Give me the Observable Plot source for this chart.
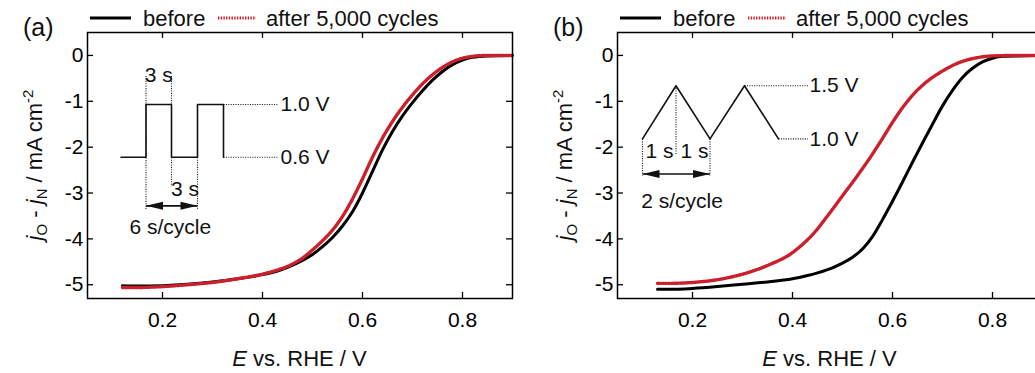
<!DOCTYPE html>
<html><head><meta charset="utf-8">
<script src="https://cdn.jsdelivr.net/npm/d3@7"></script>
<script src="https://cdn.jsdelivr.net/npm/@observablehq/plot@0.6"></script>
<style>
html,body{margin:0;padding:0;background:#fff;}
#wrap{position:relative;width:1035px;height:373px;overflow:hidden;}
.panel{position:absolute;top:0;width:530px;height:373px;}
.panel svg{position:absolute;left:0;top:0;}
</style></head><body>
<div id="wrap"><div class="panel" id="pa" style="left:0"></div><div class="panel" id="pb" style="left:530px"></div></div>
<script>
// ---------- data ----------
const xTicks = [0.2, 0.4, 0.6, 0.8];
const yTicks = [0, -1, -2, -3, -4, -5];
const seriesNames = ["before", "after 5,000 cycles"];
const panelLabels = ["(a)", "(b)"];

// Panel (a): potential step cycling
const eA = [0.12,0.15,0.20,0.25,0.30,0.35,0.40,0.43,0.45,0.48,0.50,0.52,0.54,0.56,0.58,0.60,0.62,0.64,0.66,0.68,0.70,0.72,0.74,0.76,0.78,0.80,0.82,0.85,0.90];
const beforeA = [-5.02,-5.03,-5.02,-4.99,-4.94,-4.87,-4.78,-4.70,-4.62,-4.47,-4.34,-4.17,-3.97,-3.72,-3.41,-3.00,-2.53,-2.06,-1.66,-1.32,-1.03,-0.77,-0.54,-0.35,-0.20,-0.10,-0.04,-0.01,0.0];
const afterA  = [-5.06,-5.06,-5.04,-5.00,-4.95,-4.87,-4.77,-4.68,-4.60,-4.42,-4.24,-4.04,-3.81,-3.51,-3.13,-2.69,-2.22,-1.80,-1.44,-1.13,-0.86,-0.62,-0.42,-0.26,-0.14,-0.06,-0.02,0.0,0.0];

// Panel (b): potential sweep cycling
const eBbefore = [0.13,0.15,0.20,0.25,0.30,0.35,0.40,0.43,0.45,0.48,0.50,0.52,0.54,0.56,0.58,0.60,0.62,0.64,0.66,0.68,0.70,0.72,0.74,0.76,0.78,0.80,0.82,0.85,0.90];
const beforeB  = [-5.10,-5.10,-5.08,-5.04,-4.99,-4.94,-4.87,-4.80,-4.74,-4.63,-4.53,-4.40,-4.22,-3.95,-3.58,-3.18,-2.76,-2.33,-1.91,-1.50,-1.10,-0.76,-0.48,-0.28,-0.14,-0.06,-0.02,-0.01,0.0];
const eBafter = [0.13,0.15,0.20,0.25,0.30,0.35,0.40,0.42,0.44,0.47,0.50,0.53,0.56,0.58,0.60,0.62,0.64,0.66,0.68,0.70,0.72,0.74,0.76,0.78,0.80,0.85,0.90];
const afterB  = [-4.97,-4.97,-4.95,-4.89,-4.77,-4.58,-4.30,-4.12,-3.91,-3.50,-3.06,-2.62,-2.15,-1.81,-1.46,-1.14,-0.87,-0.65,-0.48,-0.34,-0.22,-0.13,-0.07,-0.03,-0.01,0.0,0.0];

// Inset schematics (in chart units)
const waveA_t = [0.117,0.167,0.167,0.218,0.218,0.270,0.270,0.322,0.322];
const waveA_v = [-2.22,-2.22,-1.07,-1.07,-2.22,-2.22,-1.07,-1.07,-2.22];
const guidesA = [[0.167,-0.45,0.167,-3.35],[0.218,-0.45,0.218,-1.07],[0.218,-2.22,0.218,-2.85],[0.270,-2.22,0.270,-3.35],[0.322,-1.07,0.431,-1.07],[0.322,-2.22,0.431,-2.22]];
const arrowA = [0.167, 0.270, -3.28];
const labelsMidA = [["3 s",0.1925,-0.44],["3 s",0.245,-2.92],["6 s/cycle",0.2155,-3.75]];
const labelsStartA = [["1.0 V",0.436,-1.07],["0.6 V",0.436,-2.22]];

const waveB_t = [0.100,0.167,0.235,0.304,0.372];
const waveB_v = [-1.82,-0.66,-1.82,-0.66,-1.82];
const guidesB = [[0.100,-1.82,0.100,-2.62],[0.167,-0.66,0.167,-2.15],[0.235,-1.82,0.235,-2.62],[0.304,-0.66,0.431,-0.66],[0.372,-1.82,0.431,-1.82]];
const arrowB = [0.100, 0.235, -2.585];
const labelsMidB = [["1 s",0.134,-2.08],["1 s",0.204,-2.08],["2 s/cycle",0.179,-3.17]];
const labelsStartB = [["1.5 V",0.434,-0.64],["1.0 V",0.434,-1.82]];

// ---------- drawing ----------
const FONT = "'Liberation Sans', Arial, Helvetica, sans-serif";
const W = 530, H = 373, ML = 87, MR = 18, MT = 32, MB = 75;
const FW = W - ML - MR, FH = H - MT - MB;
const RED = "#cc1f2c";
const DOTS = "1.4 1.3";
const spike = {draw(ctx, l, r) { ctx.moveTo(-r, 0); ctx.lineTo(0, -l); ctx.lineTo(r, 0); ctx.closePath(); }};

function panel(el, label, eb, yb, ea, ya, wt, wv, guides, arrow, mids, starts) {
  const before = eb.map((e, i) => ({e, j: yb[i]}));
  const after = ea.map((e, i) => ({e, j: ya[i]}));
  const wave = wt.map((t, i) => ({t, v: wv[i]}));
  const g = guides.map(d => ({x1: d[0], y1: d[1], x2: d[2], y2: d[3]}));
  const shaft = [{x1: arrow[0], x2: arrow[1], y: arrow[2]}];
  const heads = [{x: arrow[0], y: arrow[2], rot: -90}, {x: arrow[1], y: arrow[2], rot: 90}];
  const mid = mids.map(d => ({t: d[0], x: d[1], y: d[2]}));
  const st = starts.map(d => ({t: d[0], x: d[1], y: d[2]}));

  const chart = Plot.plot({
    width: W, height: H, marginLeft: ML, marginRight: MR, marginTop: MT, marginBottom: MB,
    x: {domain: [0.05, 0.9]},
    y: {domain: [-5.3, 0.5]},
    style: {fontFamily: FONT, fontSize: "21px", color: "black", background: "none", overflow: "visible"},
    marks: [
      Plot.gridX(xTicks, {stroke: "black", strokeOpacity: 1, strokeWidth: 1.3, insetTop: FH - 6}),
      Plot.gridX(xTicks, {stroke: "black", strokeOpacity: 1, strokeWidth: 1.3, insetBottom: FH - 6}),
      Plot.gridY(yTicks, {stroke: "black", strokeOpacity: 1, strokeWidth: 1.3, insetRight: FW - 6}),
      Plot.gridY(yTicks, {stroke: "black", strokeOpacity: 1, strokeWidth: 1.3, insetLeft: FW - 6}),
      Plot.axisX(xTicks, {tickSize: 0, tickPadding: 14, tickFormat: d => d.toFixed(1), label: null, fontSize: 21}),
      Plot.axisY(yTicks, {tickSize: 0, tickPadding: 4, tickFormat: d => String(d), label: null, fontSize: 21}),
      Plot.link(g, {x1: "x1", y1: "y1", x2: "x2", y2: "y2", stroke: "#222", strokeWidth: 1.1, strokeDasharray: "1.1 1.3"}),
      Plot.line(wave, {x: "t", y: "v", stroke: "#111", strokeWidth: 1.6}),
      Plot.link(shaft, {x1: "x1", x2: "x2", y1: "y", y2: "y", stroke: "#111", strokeWidth: 1.6}),
      Plot.vector(heads, {x: "x", y: "y", rotate: "rot", length: 17, r: 4, shape: spike, anchor: "end", fill: "#111", stroke: "none"}),
      Plot.text(mid, {x: "x", y: "y", text: "t", textAnchor: "middle", fontSize: 21, fill: "#111"}),
      Plot.text(st, {x: "x", y: "y", text: "t", textAnchor: "start", fontSize: 21, fill: "#111"}),
      Plot.line(before, {x: "e", y: "j", stroke: "black", strokeWidth: 3, curve: "monotone-x"}),
      Plot.line(after, {x: "e", y: "j", stroke: RED, strokeWidth: 3.4, strokeDasharray: DOTS, curve: "monotone-x"}),
      Plot.frame({stroke: "black", strokeWidth: 1.5})
    ]
  });
  el.appendChild(chart);
  const svg = d3.select(chart);
  // y-axis label
  const yl = svg.append("text").attr("transform", `translate(42,${MT + FH / 2}) rotate(-90)`)
    .attr("text-anchor", "middle").attr("font-family", FONT).attr("font-size", 22).attr("fill", "#111");
  yl.append("tspan").attr("font-style", "italic").text("j");
  yl.append("tspan").attr("font-size", 15).attr("dy", 5).text("O");
  yl.append("tspan").attr("dy", -5).text(" - ");
  yl.append("tspan").attr("font-style", "italic").text("j");
  yl.append("tspan").attr("font-size", 15).attr("dy", 5).text("N");
  yl.append("tspan").attr("dy", -5).text(" / mA cm");
  yl.append("tspan").attr("font-size", 15).attr("dy", -9).text("-2");
  // x-axis label
  const xl = svg.append("text").attr("x", ML + FW / 2).attr("y", 366)
    .attr("text-anchor", "middle").attr("font-family", FONT).attr("font-size", 22).attr("fill", "#111");
  xl.append("tspan").attr("font-style", "italic").text("E");
  xl.append("tspan").text(" vs. RHE / V");

  // legend + panel label (overlay above the plot)
  const lg = d3.select(el).append("svg").attr("width", W).attr("height", 45).style("overflow", "visible");
  lg.append("text").attr("x", 23).attr("y", 36).attr("font-family", FONT).attr("font-size", 25).attr("fill", "#111").text(label);
  lg.append("line").attr("x1", 90).attr("x2", 131).attr("y1", 18).attr("y2", 18).attr("stroke", "black").attr("stroke-width", 3);
  lg.append("text").attr("x", 143).attr("y", 26).attr("font-family", FONT).attr("font-size", 22).attr("fill", "#111").text(seriesNames[0]);
  lg.append("line").attr("x1", 218).attr("x2", 256).attr("y1", 18).attr("y2", 18).attr("stroke", RED).attr("stroke-width", 2.8).attr("stroke-dasharray", DOTS);
  lg.append("text").attr("x", 266).attr("y", 26).attr("font-family", FONT).attr("font-size", 22).attr("fill", "#111").text(seriesNames[1]);
}

panel(document.getElementById("pa"), panelLabels[0], eA, beforeA, eA, afterA, waveA_t, waveA_v, guidesA, arrowA, labelsMidA, labelsStartA);
panel(document.getElementById("pb"), panelLabels[1], eBbefore, beforeB, eBafter, afterB, waveB_t, waveB_v, guidesB, arrowB, labelsMidB, labelsStartB);
</script></body></html>
